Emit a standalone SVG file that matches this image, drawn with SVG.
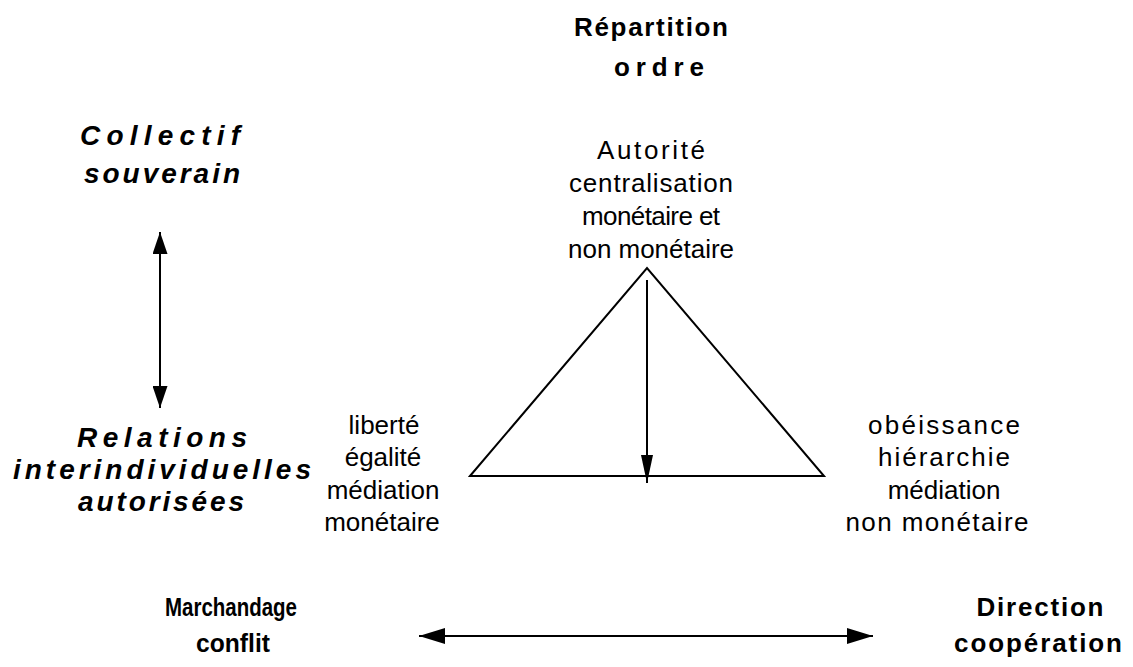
<svg xmlns="http://www.w3.org/2000/svg" width="1133" height="667" viewBox="0 0 1133 667">
<style>
  text { font-family: "Liberation Sans", Arial, sans-serif; font-size: 26px; fill: #000; text-anchor: middle; }
  .b { font-weight: bold; }
  .bi { font-weight: bold; font-style: italic; font-size: 28px; }
  .ln { stroke: #000; stroke-width: 2; fill: none; }
</style>
<defs>
  <marker id="ah" markerUnits="userSpaceOnUse" markerWidth="26" markerHeight="16" refX="26" refY="8" orient="auto-start-reverse">
    <path d="M0,0 L26,8 L0,16 z" fill="#000"/>
  </marker>
  <marker id="ah2" markerUnits="userSpaceOnUse" markerWidth="22" markerHeight="15" refX="22" refY="7.5" orient="auto-start-reverse">
    <path d="M0,0 L22,7.5 L0,15 z" fill="#000"/>
  </marker>
  <marker id="ahn" markerUnits="userSpaceOnUse" markerWidth="28" markerHeight="12" refX="28" refY="6" orient="auto">
    <path d="M0,0 L28,6 L0,12 z" fill="#000"/>
  </marker>
</defs>

<g id="triangle">
  <polygon class="ln" points="470,476 647,268 824,476"/>
</g>

<g id="connectors">
  <line class="ln" x1="647" y1="280" x2="647" y2="483" marker-end="url(#ahn)"/>
  <line class="ln" x1="160" y1="232" x2="160" y2="408" marker-start="url(#ah2)" marker-end="url(#ah2)"/>
  <line class="ln" x1="419" y1="636" x2="873" y2="636" marker-start="url(#ah)" marker-end="url(#ah)"/>
</g>

<g id="top">
  <text class="b" x="651" y="36" textLength="154" lengthAdjust="spacing">Répartition</text>
  <text class="b" x="659" y="76" textLength="90" lengthAdjust="spacing">ordre</text>
  <text x="651" y="159" textLength="108" lengthAdjust="spacing">Autorité</text>
  <text x="651" y="192" textLength="164" lengthAdjust="spacing">centralisation</text>
  <text x="651" y="225" textLength="138" lengthAdjust="spacing">monétaire et</text>
  <text x="651" y="258" textLength="166" lengthAdjust="spacing">non monétaire</text>
</g>

<g id="collectif">
  <text class="bi" x="160" y="145" textLength="160" lengthAdjust="spacing">Collectif</text>
  <text class="bi" x="162" y="183" textLength="156" lengthAdjust="spacing">souverain</text>
</g>

<g id="relations">
  <text class="bi" x="162" y="447" textLength="170" lengthAdjust="spacing">Relations</text>
  <text class="bi" x="162" y="479" textLength="298" lengthAdjust="spacing">interindividuelles</text>
  <text class="bi" x="161" y="511" textLength="166" lengthAdjust="spacing">autorisées</text>
</g>

<g id="left">
  <text x="384" y="434">liberté</text>
  <text x="383" y="466">égalité</text>
  <text x="383" y="499">médiation</text>
  <text x="382" y="531">monétaire</text>
</g>

<g id="right">
  <text x="944" y="434" textLength="152" lengthAdjust="spacing">obéissance</text>
  <text x="944" y="466" textLength="132" lengthAdjust="spacing">hiérarchie</text>
  <text x="944" y="499">médiation</text>
  <text x="937" y="531" textLength="183" lengthAdjust="spacing">non monétaire</text>
</g>

<g id="marchandage">
  <text class="b" x="231" y="616" textLength="132" lengthAdjust="spacingAndGlyphs">Marchandage</text>
  <text class="b" x="233" y="652" textLength="74" lengthAdjust="spacingAndGlyphs">conflit</text>
</g>

<g id="direction">
  <text class="b" x="1040" y="616" textLength="127" lengthAdjust="spacing">Direction</text>
  <text class="b" x="1038" y="652" textLength="168" lengthAdjust="spacing">coopération</text>
</g>
</svg>
